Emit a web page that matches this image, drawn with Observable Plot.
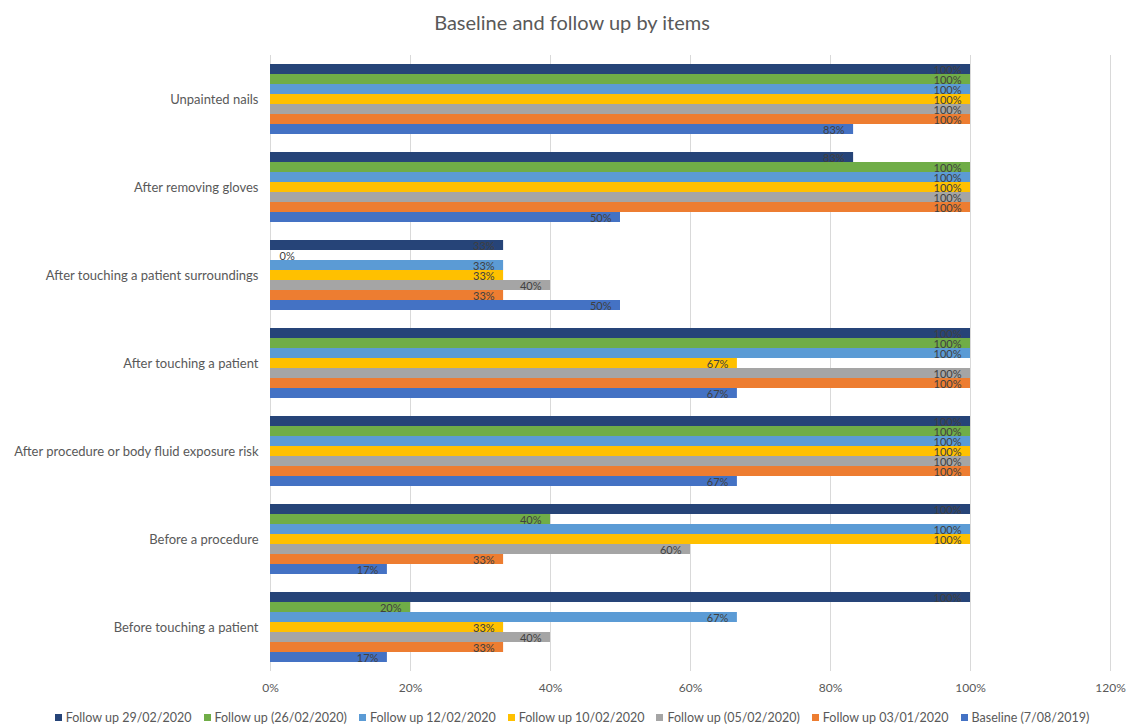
<!DOCTYPE html>
<html>
<head>
<meta charset="utf-8">
<script src="https://cdn.jsdelivr.net/npm/d3@7"></script>
<script src="https://cdn.jsdelivr.net/npm/@observablehq/plot@0.6"></script>
<style>
  html, body { margin: 0; padding: 0; background: #fff; }
  body { width: 1126px; height: 727px; overflow: hidden; font-family: Lato, "Open Sans", sans-serif; }
  #title { height: 45px; line-height: 45px; text-align: center; font-size: 20px; color: #595959; padding-left: 18px; box-sizing: border-box; }
  #legend { display: flex; justify-content: center; align-items: center; gap: 12px; font-size: 12.5px; color: #595959; height: 20px; white-space: nowrap; margin-top: -10px; padding-left: 18px; box-sizing: border-box; }
  #legend .item { display: flex; align-items: center; gap: 4px; }
  #legend .sw { width: 7px; height: 7px; display: inline-block; }
</style>
</head>
<body>
<div id="title">Baseline and follow up by items</div>
<div id="chart"></div>
<div id="legend"></div>
<script>
const categories = [
  "Unpainted nails",
  "After removing gloves",
  "After touching a patient surroundings",
  "After touching a patient",
  "After procedure or body fluid exposure risk",
  "Before a procedure",
  "Before touching a patient"
];
const series = [
  "Follow up 29/02/2020",
  "Follow up (26/02/2020)",
  "Follow up 12/02/2020",
  "Follow up 10/02/2020",
  "Follow up (05/02/2020)",
  "Follow up 03/01/2020",
  "Baseline (7/08/2019)"
];
const colors = ["#264478", "#70AD47", "#5B9BD5", "#FFC000", "#A5A5A5", "#ED7D31", "#4472C4"];

const followUp2902 = [100, 83.3, 33.3, 100, 100, 100, 100];
const followUp2602 = [100, 100, 0, 100, 100, 40, 20];
const followUp1202 = [100, 100, 33.3, 100, 100, 100, 66.7];
const followUp1002 = [100, 100, 33.3, 66.7, 100, 100, 33.3];
const followUp0502 = [100, 100, 40, 100, 100, 60, 40];
const followUp0301 = [100, 100, 33.3, 100, 100, 33.3, 33.3];
const baseline     = [83.3, 50, 50, 66.7, 66.7, 16.7, 16.7];

const xTicks = [0, 20, 40, 60, 80, 100, 120];

const seriesValues = [followUp2902, followUp2602, followUp1202, followUp1002, followUp0502, followUp0301, baseline];

const data = [];
categories.forEach((c, ci) => {
  series.forEach((s, si) => {
    data.push({category: c, series: s, value: seriesValues[si][ci]});
  });
});

const fmt = v => Math.round(v) + "%";

const chart = Plot.plot({
  width: 1126,
  height: 672,
  marginLeft: 270,
  marginRight: 16,
  marginTop: 10,
  marginBottom: 45,
  style: {fontFamily: "Lato, 'Open Sans', sans-serif", fontSize: "12px", color: "#595959", background: "#fff"},
  x: {domain: [0, 120], ticks: xTicks, tickFormat: d => d + "%", tickSize: 0, tickPadding: 21, label: null},
  y: {domain: series, paddingInner: 0, paddingOuter: 0, axis: null},
  fy: {domain: categories, paddingInner: 0.2, paddingOuter: 0.1, axis: "left", tickSize: 0, tickPadding: 12, label: null},
  color: {domain: series, range: colors},
  marks: [
    Plot.ruleX(xTicks, {stroke: "#d9d9d9", strokeWidth: 1, insetTop: -9, insetBottom: -9}),
    Plot.barX(data, {x: "value", y: "series", fy: "category", fill: "series"}),
    Plot.text(data.filter(d => d.value > 0), {x: "value", y: "series", fy: "category", text: d => fmt(d.value), textAnchor: "end", dx: -9, dy: 1, fill: "#404040", fontSize: 11}),
    Plot.text(data.filter(d => d.value === 0), {x: "value", y: "series", fy: "category", text: d => fmt(d.value), textAnchor: "start", dx: 9, dy: 1, fill: "#404040", fontSize: 11})
  ]
});
chart.querySelectorAll('g[aria-label="fy-axis tick label"] text, g[aria-label="fy-axis"] text').forEach(t => t.setAttribute("font-size", "13"));
document.getElementById("chart").appendChild(chart);

const legend = document.getElementById("legend");
series.forEach((s, i) => {
  const item = document.createElement("span");
  item.className = "item";
  const sw = document.createElement("span");
  sw.className = "sw";
  sw.style.background = colors[i];
  const t = document.createElement("span");
  t.textContent = s;
  item.appendChild(sw);
  item.appendChild(t);
  legend.appendChild(item);
});
</script>
</body>
</html>
